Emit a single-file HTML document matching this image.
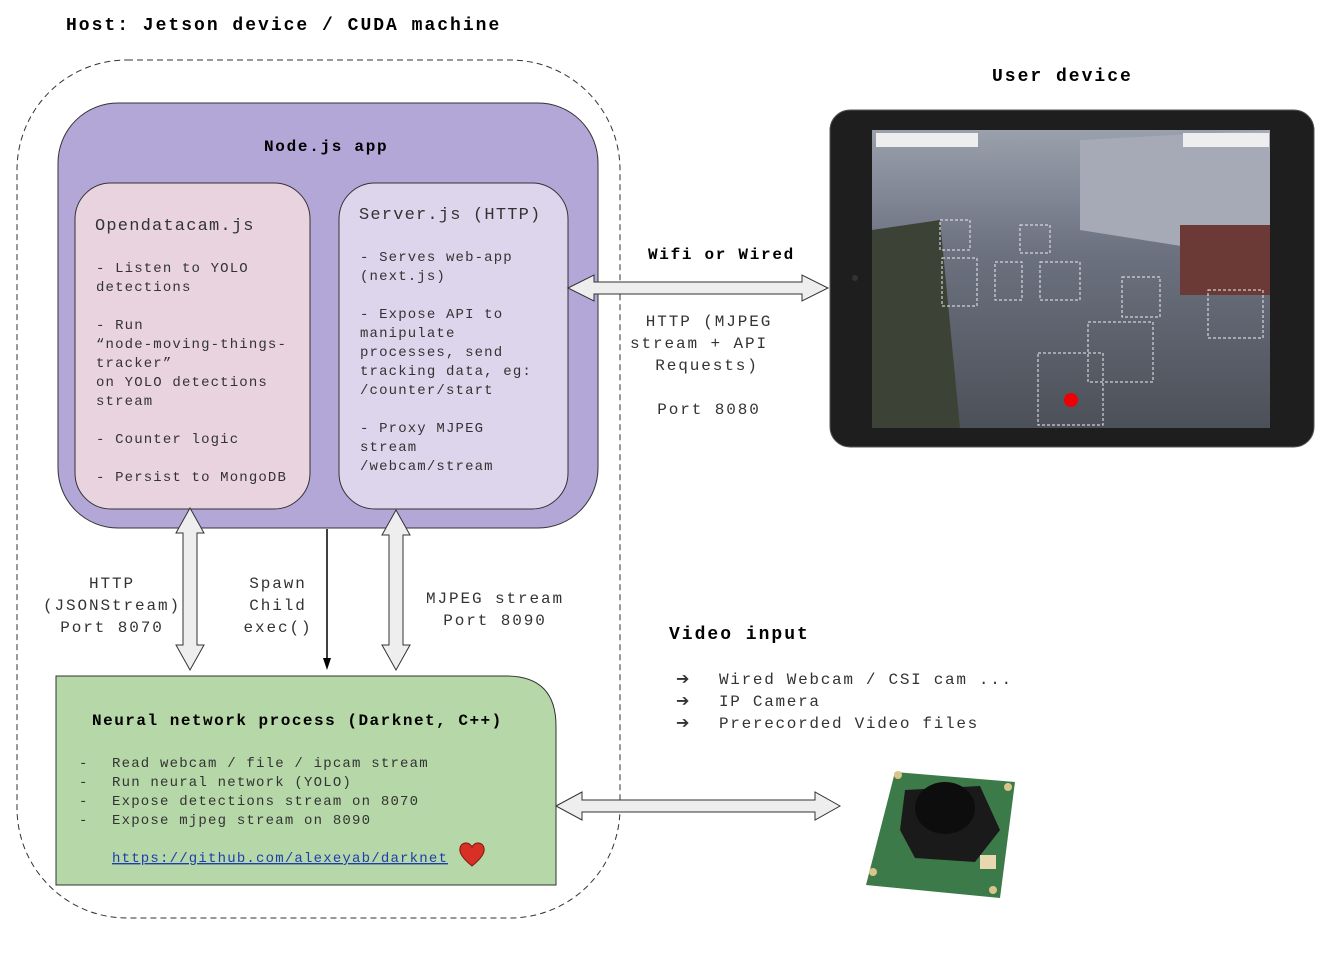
<!DOCTYPE html>
<html><head><meta charset="utf-8"><style>
html,body{margin:0;padding:0;background:#fff}
svg text{font-family:"Liberation Mono",monospace;fill:#333}
.b{font-weight:bold;fill:#000}
</style></head><body>
<svg width="1332" height="956" viewBox="0 0 1332 956" xmlns="http://www.w3.org/2000/svg">
<text x="66" y="30" class="b" font-size="18" letter-spacing="2">Host: Jetson device / CUDA machine</text>
<rect x="17" y="60" width="603" height="858" rx="110" fill="none" stroke="#333" stroke-dasharray="6,4"/>
<rect x="58" y="103" width="540" height="425" rx="60" fill="#b2a7d7" stroke="#333"/>
<text x="264" y="151" class="b" font-size="16" letter-spacing="1.7">Node.js app</text>
<rect x="75" y="183" width="235" height="326" rx="36" fill="#e9d3df" stroke="#333"/>
<rect x="339" y="183" width="229" height="326" rx="36" fill="#dcd5ec" stroke="#333"/>
<g font-size="17" letter-spacing="1.2"><text x="95" y="230">Opendatacam.js</text><text x="359" y="219">Server.js (HTTP)</text></g>
<g font-size="14" letter-spacing="1.15">
<text x="96" y="272">- Listen to YOLO</text><text x="96" y="291">detections</text>
<text x="96" y="329">- Run</text><text x="96" y="348">“node-moving-things-</text><text x="96" y="367">tracker”</text><text x="96" y="386">on YOLO detections</text><text x="96" y="405">stream</text>
<text x="96" y="443">- Counter logic</text>
<text x="96" y="481">- Persist to MongoDB</text>
<text x="360" y="261">- Serves web-app</text><text x="360" y="280">(next.js)</text>
<text x="360" y="318">- Expose API to</text><text x="360" y="337">manipulate</text><text x="360" y="356">processes, send</text><text x="360" y="375">tracking data, eg:</text><text x="360" y="394">/counter/start</text>
<text x="360" y="432">- Proxy MJPEG</text><text x="360" y="451">stream</text><text x="360" y="470">/webcam/stream</text>
</g>
<g fill="#eee" stroke="#333">
<path d="M190,508 L204,533 L197,533 L197,645 L204,645 L190,670 L176,645 L183,645 L183,533 L176,533 Z"/>
<path d="M396,510 L410,535 L403,535 L403,645 L410,645 L396,670 L382,645 L389,645 L389,535 L382,535 Z"/>
<path d="M568,288 L594,275 L594,282 L802,282 L802,275 L828,288 L802,301 L802,294 L594,294 L594,301 Z"/>
<path d="M556,806 L582,792 L582,800 L815,800 L815,792 L840,806 L815,820 L815,812 L582,812 L582,820 Z"/>
</g>
<line x1="327" y1="529" x2="327" y2="660" stroke="#000" stroke-width="1.5"/>
<path d="M323,658 L331,658 L327,670 Z" fill="#000"/>
<g font-size="16" text-anchor="middle" letter-spacing="1.9">
<text x="112" y="588">HTTP</text><text x="112" y="610">(JSONStream)</text><text x="112" y="632">Port 8070</text>
<text x="278" y="588">Spawn</text><text x="278" y="610">Child</text><text x="278" y="632">exec()</text>
<text x="495" y="603">MJPEG stream</text><text x="495" y="625">Port 8090</text>
<text x="709" y="326">HTTP (MJPEG</text><text x="699" y="348">stream + API</text><text x="707" y="370">Requests)</text>
<text x="709" y="414">Port 8080</text>
</g>
<text x="648" y="259" class="b" font-size="16" letter-spacing="1.7">Wifi or Wired</text>
<text x="992" y="81" class="b" font-size="18" letter-spacing="2">User device</text>
<path d="M56,676 L506,676 Q556,676 556,726 L556,885 L56,885 Z" fill="#b6d7a8" stroke="#333"/>
<text x="92" y="725" class="b" font-size="16" letter-spacing="1.5">Neural network process (Darknet, C++)</text>
<g font-size="14" letter-spacing="1.2">
<text x="79" y="767">-</text><text x="112" y="767">Read webcam / file / ipcam stream</text>
<text x="79" y="786">-</text><text x="112" y="786">Run neural network (YOLO)</text>
<text x="79" y="805">-</text><text x="112" y="805">Expose detections stream on 8070</text>
<text x="79" y="824">-</text><text x="112" y="824">Expose mjpeg stream on 8090</text>
<text x="112" y="862" style="fill:#1c3faa" text-decoration="underline">https://github.com/alexeyab/darknet</text>
</g>
<path d="M472,866 C462,858 459,852 460,848 C461,842 469,841 472,847 C475,841 483,842 484,848 C485,852 482,858 472,866 Z" fill="#d93025" stroke="#7a1a10"/>
<text x="669" y="639" class="b" font-size="18" letter-spacing="2">Video input</text>
<g font-size="16" letter-spacing="1.7">
<text x="676" y="684">➔</text><text x="719" y="684">Wired Webcam / CSI cam ...</text>
<text x="676" y="706">➔</text><text x="719" y="706">IP Camera</text>
<text x="676" y="728">➔</text><text x="719" y="728">Prerecorded Video files</text>
</g>
<rect x="830" y="110" width="484" height="337" rx="20" fill="#1e1e1e" stroke="#555"/>
<defs><linearGradient id="g" x1="0" y1="0" x2="0" y2="1"><stop offset="0" stop-color="#9aa0ac"/><stop offset="0.4" stop-color="#6c7280"/><stop offset="1" stop-color="#4c5058"/></linearGradient></defs>
<rect x="872" y="130" width="398" height="298" fill="url(#g)"/>
<path d="M872,230 L872,428 L960,428 L940,220 Z" fill="#3d4237"/>
<path d="M1080,140 L1270,130 L1270,260 L1080,230 Z" fill="#a5aab6"/>
<rect x="1180" y="225" width="90" height="70" fill="#6b3a36"/>
<rect x="876" y="133" width="102" height="14" fill="#eee"/>
<rect x="1183" y="133" width="86" height="14" fill="#eee"/>
<g fill="none" stroke="#eee" stroke-dasharray="3,2">
<rect x="942" y="258" width="35" height="48"/><rect x="995" y="262" width="27" height="38"/><rect x="1040" y="262" width="40" height="38"/>
<rect x="1122" y="277" width="38" height="40"/><rect x="1208" y="290" width="55" height="48"/><rect x="1088" y="322" width="65" height="60"/>
<rect x="1038" y="353" width="65" height="72"/><rect x="940" y="220" width="30" height="30"/><rect x="1020" y="225" width="30" height="28"/>
</g>
<circle cx="1071" cy="400" r="7" fill="#e00"/>
<circle cx="855" cy="278" r="3" fill="#333"/>
<path d="M895,772 L1015,782 L1000,898 L866,885 Z" fill="#3d7a4a"/>
<path d="M905,790 L980,786 L1000,830 L975,862 L915,858 L900,830 Z" fill="#1a1a1a"/>
<ellipse cx="945" cy="808" rx="30" ry="26" fill="#0d0d0d"/>
<rect x="980" y="855" width="16" height="14" fill="#e8d8b0"/>
<circle cx="898" cy="775" r="4" fill="#d9c48a"/><circle cx="1008" cy="787" r="4" fill="#d9c48a"/><circle cx="873" cy="872" r="4" fill="#d9c48a"/><circle cx="993" cy="890" r="4" fill="#d9c48a"/>
</svg>
</body></html>
